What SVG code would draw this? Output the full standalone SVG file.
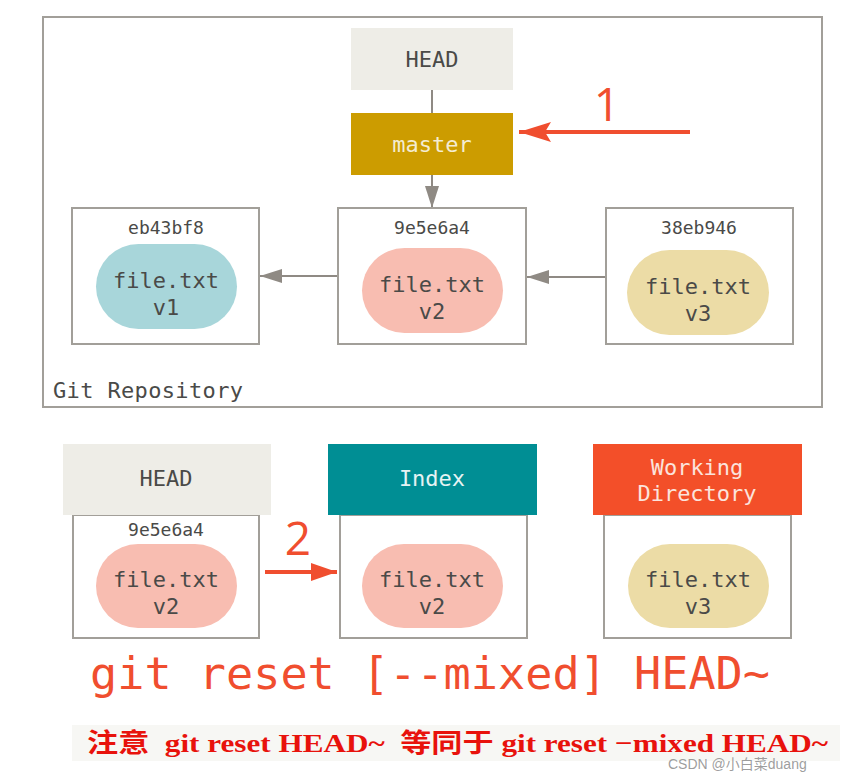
<svg xmlns="http://www.w3.org/2000/svg" width="851" height="772" viewBox="0 0 851 772">
<defs>
<style>
.mono{font-family:"DejaVu Sans Mono","Liberation Mono",monospace;}
.lbl{fill:#4a4a48;font-size:22px;text-anchor:middle;}
.hash{fill:#4a4a48;font-size:18px;text-anchor:middle;}
.box{fill:#fff;stroke:#a29f99;stroke-width:2;}
.conn{stroke:#8f8a84;stroke-width:2;fill:none;}
.red{stroke:#f04e2f;stroke-width:4;fill:none;}
.num{font-family:"Open Sans","DejaVu Sans",sans-serif;fill:#f04e2f;font-size:46px;text-anchor:middle;}
</style>
<marker id="ag2" viewBox="0 0 22 14" refX="22" refY="7" markerWidth="22" markerHeight="14" markerUnits="userSpaceOnUse" orient="auto"><path d="M0,0 L22,7 L0,14 Z" fill="#8f8a84"/></marker>
<marker id="ar" viewBox="0 0 32 20" refX="32" refY="10" markerWidth="32" markerHeight="20" markerUnits="userSpaceOnUse" orient="auto"><path d="M0,0 L32,10 L0,20 L6,10 Z" fill="#f04e2f"/></marker>
<marker id="ar2" viewBox="0 0 26 18" refX="26" refY="9" markerWidth="26" markerHeight="18" markerUnits="userSpaceOnUse" orient="auto"><path d="M0,0 L26,9 L0,18 Z" fill="#f04e2f"/></marker>
</defs>
<rect width="851" height="772" fill="#fff"/>

<g id="repo">
<rect x="43" y="17" width="779" height="390" fill="none" stroke="#a29f99" stroke-width="2"/>
<text class="mono" x="53" y="398" font-size="22" fill="#4a4a48" textLength="190">Git Repository</text>
</g>

<g id="connectors">
<line class="conn" x1="432" y1="90" x2="432" y2="113"/>
<line class="conn" x1="432" y1="175" x2="432" y2="208" marker-end="url(#ag2)"/>
<line class="conn" x1="338" y1="276" x2="260" y2="276" marker-end="url(#ag2)"/>
<line class="conn" x1="606" y1="277" x2="527" y2="277" marker-end="url(#ag2)"/>
<line class="red" x1="690" y1="132" x2="519" y2="132" marker-end="url(#ar)"/>
<line class="red" x1="265" y1="572" x2="337" y2="572" marker-end="url(#ar2)"/>
</g>

<g id="label1"><text class="num" x="607" y="121">1</text></g>
<g id="label2"><text class="num" x="298" y="555" font-size="43">2</text></g>

<g id="head-top">
<rect x="351" y="28" width="162" height="62" fill="#eeede7"/>
<text class="mono lbl" x="432" y="67">HEAD</text>
</g>
<g id="master">
<rect x="351" y="113" width="162" height="62" fill="#cc9c00"/>
<text class="mono" x="432" y="152" font-size="22" fill="#f4ecd2" text-anchor="middle">master</text>
</g>

<g id="commit-eb43bf8">
<rect class="box" x="72" y="208" width="187" height="136"/>
<text class="mono hash" x="166" y="234">eb43bf8</text>
<rect x="96" y="244" width="141" height="85" rx="42.5" fill="#a8d6da"/>
<text class="mono lbl" x="166" y="288">file.txt</text>
<text class="mono lbl" x="166" y="315">v1</text>
</g>
<g id="commit-9e5e6a4">
<rect class="box" x="338" y="208" width="188" height="136"/>
<text class="mono hash" x="432" y="234">9e5e6a4</text>
<rect x="362" y="248" width="141" height="85" rx="42.5" fill="#f8bdb1"/>
<text class="mono lbl" x="432" y="292">file.txt</text>
<text class="mono lbl" x="432" y="319">v2</text>
</g>
<g id="commit-38eb946">
<rect class="box" x="606" y="208" width="187" height="136"/>
<text class="mono hash" x="699" y="234">38eb946</text>
<rect x="627" y="250" width="142" height="85" rx="42.5" fill="#ecdca6"/>
<text class="mono lbl" x="698" y="294">file.txt</text>
<text class="mono lbl" x="698" y="321">v3</text>
</g>

<g id="head-bottom">
<rect class="box" x="73" y="515" width="186" height="123"/>
<rect x="63" y="444" width="208" height="71" fill="#eeede7"/>
<text class="mono lbl" x="166" y="486">HEAD</text>
<text class="mono hash" x="166" y="536">9e5e6a4</text>
<rect x="96" y="544" width="141" height="84" rx="42" fill="#f8bdb1"/>
<text class="mono lbl" x="166" y="587">file.txt</text>
<text class="mono lbl" x="166" y="614">v2</text>
</g>
<g id="index">
<rect class="box" x="340" y="515" width="187" height="123"/>
<rect x="328" y="444" width="209" height="71" fill="#008e94"/>
<text class="mono" x="432" y="486" font-size="22" fill="#e6f3f3" text-anchor="middle">Index</text>
<rect x="362" y="544" width="141" height="84" rx="42" fill="#f8bdb1"/>
<text class="mono lbl" x="432" y="587">file.txt</text>
<text class="mono lbl" x="432" y="614">v2</text>
</g>
<g id="working-directory">
<rect class="box" x="604" y="515" width="187" height="123"/>
<rect x="593" y="444" width="209" height="71" fill="#f34f29"/>
<text class="mono" x="697" y="475" font-size="22" fill="#fbe3dc" text-anchor="middle">Working</text>
<text class="mono" x="697" y="501" font-size="22" fill="#fbe3dc" text-anchor="middle">Directory</text>
<rect x="628" y="544" width="141" height="84" rx="42" fill="#ecdca6"/>
<text class="mono lbl" x="698" y="587">file.txt</text>
<text class="mono lbl" x="698" y="614">v3</text>
</g>

<g id="command">
<text class="mono" x="90" y="689" font-size="44" fill="#f04e2f" textLength="680" lengthAdjust="spacingAndGlyphs">git reset [--mixed] HEAD~</text>
</g>

<g id="note">
<rect x="72" y="725" width="768" height="36" fill="#f7f7f4"/>
<text x="87" y="752" xml:space="preserve" style="white-space:pre" font-family="'Liberation Serif','Noto Sans CJK SC',serif" font-weight="bold" font-size="26" fill="#e8120c" textLength="741" lengthAdjust="spacingAndGlyphs">注意  git reset HEAD~  等同于 git reset −mixed HEAD~</text>
<text x="668" y="769" font-family="'Liberation Sans','Noto Sans CJK SC',sans-serif" font-size="14" fill="#8c8c8c" fill-opacity="0.85">CSDN @小白菜duang</text>
</g>
</svg>
